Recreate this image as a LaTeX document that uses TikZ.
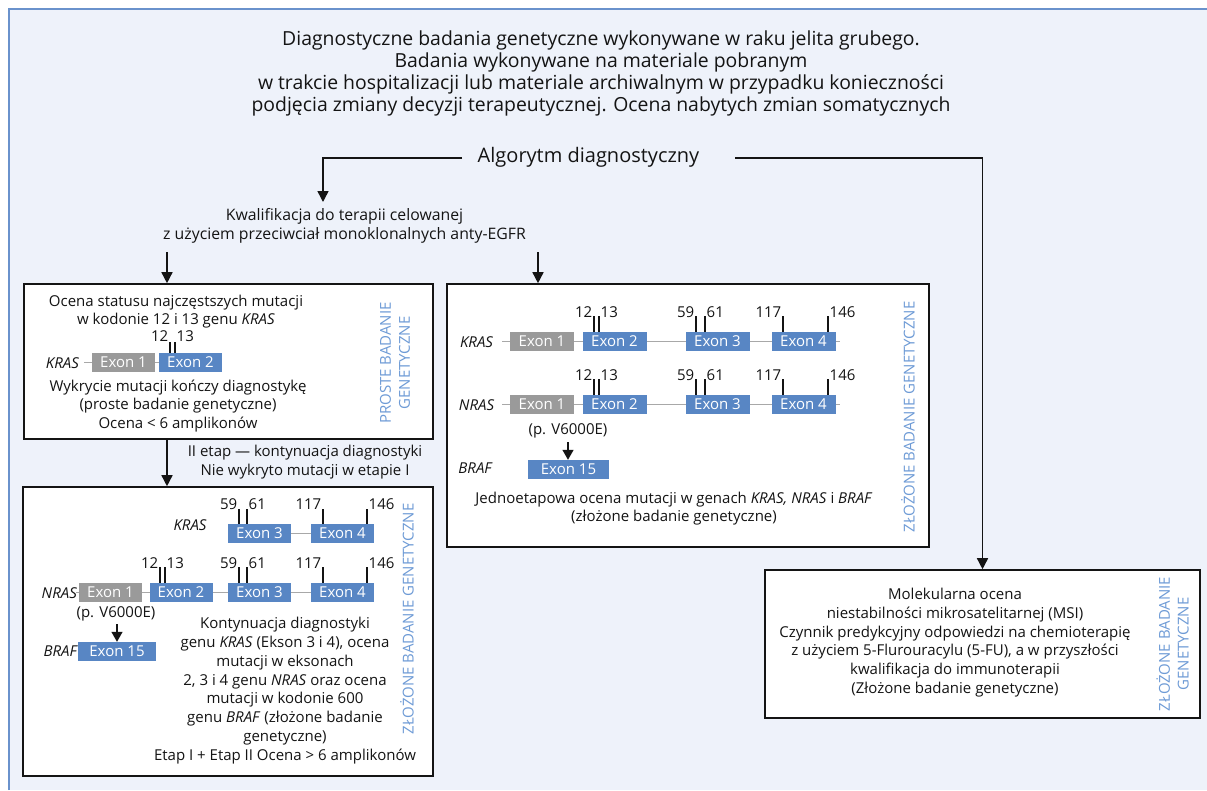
\documentclass[tikz,border=0pt]{standalone}
\usepackage{fontspec}
\setmainfont{Open Sans}
\usetikzlibrary{arrows.meta}
\definecolor{bgc}{RGB}{238,242,250}
\definecolor{framec}{RGB}{106,146,204}
\definecolor{exblue}{RGB}{88,134,196}
\definecolor{exgray}{RGB}{154,154,154}
\definecolor{lblue}{RGB}{110,155,214}
\definecolor{gline}{RGB}{168,168,168}
\definecolor{ink}{RGB}{20,20,20}
\newcommand\bodyfont{\fontsize{15}{18.8}\selectfont}
\newcommand\kwalfont{\fontsize{15.8}{19}\selectfont}
\newcommand\titlefont{\fontsize{19.4}{22}\selectfont}
\newcommand\algfont{\fontsize{20}{22}\selectfont}
\newcommand\gtick[3]{\draw[tickline] (#1,#2) -- (#1,#3);}
\newcommand\numL[4]{\node[num,anchor=east] (#1) at (#2-1.5,#3) {#4};}
\newcommand\numR[4]{\node[num,anchor=west] (#1) at (#2+1.5,#3) {#4};}
\begin{document}
\begin{tikzpicture}[x=1pt,y=-1pt,
  every node/.style={inner sep=0pt},
  txt/.style={font=\bodyfont, align=center, text=ink},
  num/.style={font=\bodyfont, text=ink},
  gene/.style={font=\bodyfont\itshape, text=ink},
  vlab/.style={font=\bodyfont, align=center, text=lblue, rotate=90},
  box/.style={draw=ink, line width=1.6pt, fill=white},
  exb/.style={fill=exblue, text=white, font=\bodyfont, minimum height=19pt, minimum width=64pt},
  exg/.style={fill=exgray, text=white, font=\bodyfont, minimum height=19pt, minimum width=64pt},
  geneline/.style={draw=gline, line width=1.3pt},
  tickline/.style={draw=ink, line width=1.1pt},
  arr/.style={draw=ink, line width=1.5pt, -{Triangle[length=11pt,width=11pt]}},
  sarr/.style={draw=ink, line width=1.3pt, -{Triangle[length=10pt,width=11pt]}},
]
\useasboundingbox (0,0) rectangle (1207,790);
\fill[white] (0,0) rectangle (1207,790);
\fill[bgc] (9,9) rectangle (1207,790);
\draw[framec, line width=2pt] (9,790) -- (9,9) -- (1207,9);

% title
\node[txt, font=\titlefont] (title) at (601,73) {Diagnostyczne badania genetyczne wykonywane w raku jelita grubego.\\Badania wykonywane na materiale pobranym\\w trakcie hospitalizacji lub materiale archiwalnym w przypadku konieczności\\podjęcia zmiany decyzji terapeutycznej. Ocena nabytych zmian somatycznych};

\node[txt, font=\algfont] (alg) at (588.5,157) {Algorytm diagnostyczny};
\node[txt, font=\kwalfont] (kwal) at (344.5,226) {Kwalifikacja do terapii celowanej\\z użyciem przeciwciał monoklonalnych anty-EGFR};

% boxes
\node[box, minimum width=409pt, minimum height=155pt] (box1) at (228.5,361.5) {};
\node[box, minimum width=410pt, minimum height=289pt] (box2) at (228,631.5) {};
\node[box, minimum width=482pt, minimum height=263pt] (box3) at (688,415.5) {};
\node[box, minimum width=435pt, minimum height=148pt] (box4) at (982.5,644) {};

% connectors
\coordinate (algL) at (462,158);
\coordinate (algR) at (735,158);
\coordinate (a1) at (323,202);
\draw[arr] (algL) -| (a1);
\draw[arr] (algR) -| (box4.north);
\coordinate (k1) at (167,252);
\coordinate (k2) at (538,252);
\draw[arr] (k1) -- (k1 |- box1.north);
\draw[arr] (k2) -- (k2 |- box3.north);
\draw[arr] (box1.south -| k1) -- (box2.north -| k1);
\node[txt] (etap) at (305,462) {II etap — kontynuacja diagnostyki\\Nie wykryto mutacji w etapie I};

% ---------- box 1
\node[txt] (b1t) at (176,311.5) {Ocena statusu najczęstszych mutacji\\w kodonie 12 i 13 genu \textit{KRAS}};
\draw[geneline] (84,362.5) -- (159,362.5);
\node[exg, minimum width=63pt] (b1e1) at (123.5,362.5) {Exon 1};
\node[exb, minimum width=63pt] (b1e2) at (190.5,362.5) {Exon 2};
\node[gene, anchor=east] (b1kras) at (79,363) {KRAS};
\gtick{170}{342}{353}
\gtick{175}{342}{353}
\numL{b1n12}{170}{336}{12}
\numR{b1n13}{175}{336}{13}
\node[txt] (b1b) at (178,406) {Wykrycie mutacji kończy diagnostykę\\(proste badanie genetyczne)\\Ocena < 6 amplikonów};
\node[vlab] (b1v) at (395,363) {PROSTE BADANIE\\GENETYCZNE};

% ---------- box 2
\node[gene] (b2kras) at (190,525) {KRAS};
\draw[geneline] (291,533.5) -- (311,533.5);
\node[exb, minimum width=63pt] (b2k3) at (259.5,533.5) {Exon 3};
\node[exb, minimum width=63pt] (b2k4) at (342.5,533.5) {Exon 4};
\gtick{239}{509}{524}
\gtick{247}{509}{524}
\gtick{323}{509}{524}
\gtick{367}{509}{524}
\numL{b2k59}{239}{504}{59}
\numR{b2k61}{247}{504}{61}
\numL{b2k117}{323}{504}{117}
\numR{b2k146}{367}{504}{146}

\draw[geneline] (76,592.5) -- (374,592.5);
\node[gene, anchor=east] (b2nras) at (77,593) {NRAS};
\node[exg, minimum width=63pt] (b2n1) at (110.5,592.5) {Exon 1};
\node[exb, minimum width=63pt] (b2n2) at (181,592.5) {Exon 2};
\node[exb, minimum width=63pt] (b2n3) at (259.5,592.5) {Exon 3};
\node[exb, minimum width=63pt] (b2n4) at (342.5,592.5) {Exon 4};
\gtick{160}{567}{583}
\gtick{165}{567}{583}
\gtick{239}{567}{583}
\gtick{247}{567}{583}
\gtick{323}{567}{583}
\gtick{367}{567}{583}
\numL{b2n12}{160}{563}{12}
\numR{b2n13}{165}{563}{13}
\numL{b2n59}{239}{563}{59}
\numR{b2n61}{247}{563}{61}
\numL{b2n117}{323}{563}{117}
\numR{b2n146}{367}{563}{146}

\node[txt] (b2p) at (116,614) {(p. V6000E)};
\node[exb, minimum width=78pt] (b2e15) at (117,651.5) {Exon 15};
\node[gene, anchor=east] (b2braf) at (77,651) {BRAF};
\coordinate (b2pa) at (117,624);
\draw[sarr] (b2pa) -- (b2pa |- b2e15.north);
\node[txt] (b2t) at (285,690.5) {Kontynuacja diagnostyki\\genu \textit{KRAS} (Ekson 3 i 4), ocena\\mutacji w eksonach\\2, 3 i 4 genu \textit{NRAS} oraz ocena\\mutacji w kodonie 600\\genu \textit{BRAF} (złożone badanie\\genetyczne)\\Etap I + Etap II Ocena > 6 amplikonów};
\node[vlab] (b2v) at (407,619) {ZŁOŻONE BADANIE GENETYCZNE};

% ---------- box 3
\draw[geneline] (502,341.5) -- (840,341.5);
\node[gene] (b3kras) at (476.5,342) {KRAS};
\node[exg] (b3k1) at (542,341.5) {Exon 1};
\node[exb] (b3k2) at (614.5,341.5) {Exon 2};
\node[exb] (b3k3) at (717.5,341.5) {Exon 3};
\node[exb] (b3k4) at (803.5,341.5) {Exon 4};
\gtick{594}{316}{332}
\gtick{599}{316}{332}
\gtick{696}{316}{332}
\gtick{705}{316}{332}
\gtick{783}{316}{332}
\gtick{828}{316}{332}
\numL{b3k12}{594}{312}{12}
\numR{b3k13}{599}{312}{13}
\numL{b3k59}{696}{312}{59}
\numR{b3k61}{705}{312}{61}
\numL{b3k117}{783}{312}{117}
\numR{b3k146}{828}{312}{146}

\draw[geneline] (502,404.5) -- (840,404.5);
\node[gene] (b3nras) at (476.5,405) {NRAS};
\node[exg] (b3n1) at (542,404.5) {Exon 1};
\node[exb] (b3n2) at (614.5,404.5) {Exon 2};
\node[exb] (b3n3) at (717.5,404.5) {Exon 3};
\node[exb] (b3n4) at (803.5,404.5) {Exon 4};
\gtick{594}{379}{395}
\gtick{599}{379}{395}
\gtick{696}{379}{395}
\gtick{705}{379}{395}
\gtick{783}{379}{395}
\gtick{828}{379}{395}
\numL{b3n12}{594}{375}{12}
\numR{b3n13}{599}{375}{13}
\numL{b3n59}{696}{375}{59}
\numR{b3n61}{705}{375}{61}
\numL{b3n117}{783}{375}{117}
\numR{b3n146}{828}{375}{146}

\node[txt] (b3p) at (568,431) {(p. V6000E)};
\node[exb, minimum width=81pt] (b3e15) at (568.5,469.5) {Exon 15};
\node[gene] (b3braf) at (475,468) {BRAF};
\coordinate (b3pa) at (568,442);
\draw[sarr] (b3pa) -- (b3pa |- b3e15.north);
\node[txt] (b3t) at (674,508.5) {Jednoetapowa ocena mutacji w genach \textit{KRAS, NRAS} i \textit{BRAF}\\(złożone badanie genetyczne)};
\node[vlab] (b3v) at (908,417) {ZŁOŻONE BADANIE GENETYCZNE};

% ---------- box 4
\node[txt] (b4t) at (955,642.5) {Molekularna ocena\\niestabilności mikrosatelitarnej (MSI)\\Czynnik predykcyjny odpowiedzi na chemioterapię\\z użyciem 5-Flurouracylu (5-FU), a w przyszłości\\kwalifikacja do immunoterapii\\(Złożone badanie genetyczne)};
\node[vlab] (b4v) at (1172.5,644) {ZŁOŻONE BADANIE\\GENETYCZNE};
\end{tikzpicture}
\end{document}
